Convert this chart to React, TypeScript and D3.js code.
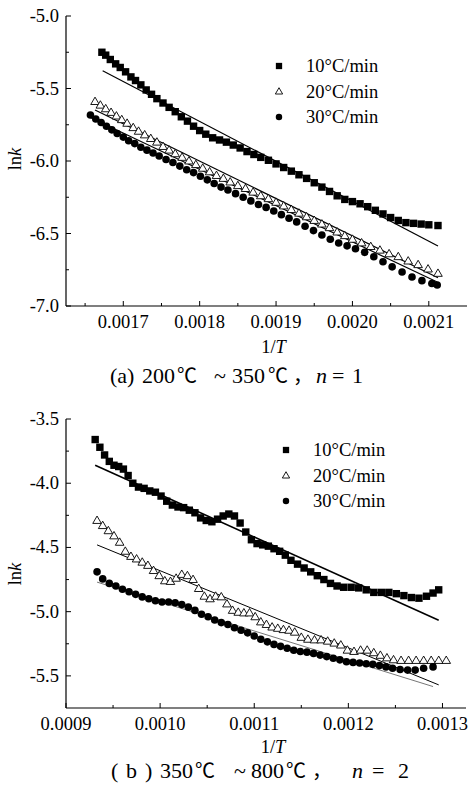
import React from 'react';
import * as d3 from 'd3';

// ---------- Panel (a): 200–350 °C, n = 1 ----------
const A_X_TICKS = [0.0017, 0.0018, 0.0019, 0.002, 0.0021];
const A_X_TICK_LABELS = ['0.0017', '0.0018', '0.0019', '0.0020', '0.0021'];
const A_X_MINOR = [0.00165, 0.00175, 0.00185, 0.00195, 0.00205];
const A_Y_TICKS = [-5.0, -5.5, -6.0, -6.5, -7.0];
const A_Y_TICK_LABELS = ['-5.0', '-5.5', '-6.0', '-6.5', '-7.0'];
const A_Y_MINOR = [-5.25, -5.75, -6.25, -6.75];

const A_S10: [number, number][] = [
  [0.001672, -5.25], [0.001677, -5.27], [0.001683, -5.3], [0.00169, -5.33], [0.001696, -5.355],
  [0.001703, -5.385], [0.00171, -5.42], [0.001716, -5.445], [0.001723, -5.475], [0.00173, -5.51],
  [0.001737, -5.54], [0.001744, -5.57], [0.001752, -5.6], [0.00176, -5.63], [0.001768, -5.66],
  [0.001776, -5.695], [0.001784, -5.725], [0.001792, -5.76], [0.0018, -5.79], [0.001808, -5.815],
  [0.001817, -5.84], [0.001826, -5.855], [0.001835, -5.87], [0.001844, -5.89], [0.001853, -5.91],
  [0.001862, -5.935], [0.001871, -5.955], [0.00188, -5.975], [0.00189, -5.995], [0.0019, -6.02],
  [0.00191, -6.045], [0.00192, -6.07], [0.00193, -6.095], [0.00194, -6.12], [0.00195, -6.15],
  [0.00196, -6.18], [0.00197, -6.21], [0.00198, -6.24], [0.00199, -6.265], [0.002, -6.28],
  [0.00201, -6.295], [0.00202, -6.315], [0.00203, -6.34], [0.00204, -6.365], [0.00205, -6.39],
  [0.00206, -6.41], [0.00207, -6.425], [0.00208, -6.43], [0.00209, -6.435], [0.0021, -6.44],
  [0.002112, -6.445],
];
const A_S20: [number, number][] = [
  [0.001663, -5.59], [0.00167, -5.615], [0.001677, -5.64], [0.001684, -5.665], [0.001691, -5.69],
  [0.001698, -5.715], [0.001705, -5.74], [0.001713, -5.77], [0.00172, -5.795], [0.001728, -5.82],
  [0.001736, -5.845], [0.001744, -5.87], [0.001752, -5.9], [0.00176, -5.925], [0.001768, -5.95],
  [0.001777, -5.975], [0.001786, -6.0], [0.001795, -6.025], [0.001804, -6.05], [0.001813, -6.075],
  [0.001822, -6.1], [0.001831, -6.12], [0.00184, -6.145], [0.00185, -6.17], [0.00186, -6.19],
  [0.00187, -6.215], [0.00188, -6.24], [0.00189, -6.26], [0.0019, -6.285], [0.00191, -6.31],
  [0.00192, -6.335], [0.00193, -6.36], [0.00194, -6.385], [0.00195, -6.41], [0.00196, -6.435],
  [0.00197, -6.46], [0.00198, -6.49], [0.00199, -6.515], [0.002, -6.54], [0.002012, -6.565],
  [0.002024, -6.59], [0.002036, -6.615], [0.002048, -6.64], [0.00206, -6.66], [0.002073, -6.69],
  [0.002086, -6.715], [0.002099, -6.745], [0.002112, -6.775],
];
const A_S30: [number, number][] = [
  [0.001657, -5.683], [0.001664, -5.71], [0.001671, -5.735], [0.001678, -5.76], [0.001685, -5.785],
  [0.001692, -5.81], [0.0017, -5.835], [0.001707, -5.86], [0.001715, -5.88], [0.001723, -5.905],
  [0.001731, -5.925], [0.001739, -5.945], [0.001747, -5.965], [0.001756, -5.99], [0.001765, -6.01],
  [0.001774, -6.035], [0.001783, -6.06], [0.001792, -6.08], [0.001801, -6.105], [0.00181, -6.13],
  [0.001819, -6.155], [0.001828, -6.18], [0.001837, -6.2], [0.001847, -6.225], [0.001857, -6.25],
  [0.001867, -6.275], [0.001877, -6.3], [0.001887, -6.32], [0.001897, -6.345], [0.001907, -6.37],
  [0.001917, -6.395], [0.001927, -6.42], [0.001938, -6.45], [0.001949, -6.48], [0.00196, -6.51],
  [0.001971, -6.54], [0.001982, -6.565], [0.001993, -6.585], [0.002004, -6.605], [0.002016, -6.63],
  [0.002028, -6.66], [0.00204, -6.695], [0.002052, -6.73], [0.002065, -6.765], [0.002078, -6.8],
  [0.002091, -6.825], [0.002104, -6.845], [0.002111, -6.855],
];
const A_FIT10: [number, number][] = [[0.001673, -5.377], [0.002112, -6.586]];
const A_FIT20: [number, number][] = [[0.001663, -5.648], [0.002112, -6.805]];
const A_FIT30: [number, number][] = [[0.001657, -5.7], [0.002111, -6.835]];

// ---------- Panel (b): 350–800 °C, n = 2 ----------
const B_X_TICKS = [0.0009, 0.001, 0.0011, 0.0012, 0.0013];
const B_X_TICK_LABELS = ['0.0009', '0.0010', '0.0011', '0.0012', '0.0013'];
const B_X_MINOR = [0.00095, 0.00105, 0.00115, 0.00125];
const B_Y_TICKS = [-3.5, -4.0, -4.5, -5.0, -5.5];
const B_Y_TICK_LABELS = ['-3.5', '-4.0', '-4.5', '-5.0', '-5.5'];
const B_Y_MINOR = [-3.75, -4.25, -4.75, -5.25];

const B_S10: [number, number][] = [
  [0.000931, -3.66], [0.000936, -3.72], [0.000941, -3.78], [0.000946, -3.83], [0.000951, -3.86],
  [0.000956, -3.87], [0.000961, -3.89], [0.000966, -3.94], [0.000971, -4.0], [0.000977, -4.03],
  [0.000983, -4.04], [0.000989, -4.06], [0.000995, -4.07], [0.001001, -4.1], [0.001007, -4.14],
  [0.001013, -4.17], [0.001019, -4.185], [0.001025, -4.19], [0.001031, -4.21], [0.001037, -4.23],
  [0.001043, -4.27], [0.001049, -4.29], [0.001055, -4.3], [0.001061, -4.28], [0.001067, -4.255],
  [0.001073, -4.24], [0.001079, -4.255], [0.001085, -4.31], [0.001091, -4.38], [0.001097, -4.44],
  [0.001103, -4.47], [0.001109, -4.48], [0.001115, -4.49], [0.001121, -4.51], [0.001127, -4.53],
  [0.001133, -4.56], [0.001139, -4.6], [0.001146, -4.63], [0.001153, -4.66], [0.00116, -4.69],
  [0.001167, -4.72], [0.001174, -4.75], [0.001181, -4.78], [0.001188, -4.8], [0.001195, -4.81],
  [0.001203, -4.81], [0.001211, -4.815], [0.001219, -4.83], [0.001227, -4.85], [0.001235, -4.85],
  [0.001243, -4.85], [0.001251, -4.86], [0.001259, -4.875], [0.001267, -4.89], [0.001275, -4.895],
  [0.001283, -4.88], [0.00129, -4.855], [0.001296, -4.83],
];
const B_S20: [number, number][] = [
  [0.000933, -4.29], [0.000939, -4.33], [0.000945, -4.37], [0.000951, -4.41], [0.000957, -4.46],
  [0.000963, -4.53], [0.000969, -4.57], [0.000975, -4.59], [0.000981, -4.615], [0.000987, -4.64],
  [0.000993, -4.68], [0.000999, -4.72], [0.001005, -4.76], [0.001011, -4.765], [0.001017, -4.74],
  [0.001023, -4.71], [0.001029, -4.72], [0.001035, -4.75], [0.001041, -4.82], [0.001047, -4.88],
  [0.001053, -4.9], [0.001059, -4.88], [0.001065, -4.885], [0.001071, -4.94], [0.001077, -4.99],
  [0.001083, -5.005], [0.001089, -5.01], [0.001095, -5.01], [0.001101, -5.04], [0.001107, -5.08],
  [0.001113, -5.1], [0.001119, -5.12], [0.001125, -5.13], [0.001131, -5.14], [0.001137, -5.145],
  [0.001143, -5.16], [0.00115, -5.2], [0.001157, -5.215], [0.001164, -5.22], [0.001171, -5.22],
  [0.001178, -5.23], [0.001185, -5.245], [0.001192, -5.26], [0.001199, -5.3], [0.001206, -5.31],
  [0.001213, -5.3], [0.00122, -5.3], [0.001227, -5.32], [0.001234, -5.34], [0.001241, -5.36],
  [0.001248, -5.375], [0.001256, -5.38], [0.001264, -5.38], [0.001272, -5.38], [0.00128, -5.38],
  [0.001288, -5.38], [0.001296, -5.38], [0.001304, -5.38],
];
const B_S30: [number, number][] = [
  [0.000933, -4.69], [0.000939, -4.745], [0.000946, -4.78], [0.000953, -4.8], [0.00096, -4.825],
  [0.000967, -4.845], [0.000974, -4.865], [0.000981, -4.885], [0.000988, -4.9], [0.000995, -4.915],
  [0.001002, -4.925], [0.001009, -4.925], [0.001016, -4.93], [0.001023, -4.945], [0.00103, -4.965],
  [0.001037, -4.99], [0.001044, -5.02], [0.001051, -5.04], [0.001058, -5.065], [0.001065, -5.085],
  [0.001072, -5.1], [0.001079, -5.125], [0.001086, -5.145], [0.001093, -5.165], [0.0011, -5.19],
  [0.001107, -5.215], [0.001114, -5.235], [0.001121, -5.255], [0.001128, -5.27], [0.001135, -5.285],
  [0.001142, -5.3], [0.001149, -5.31], [0.001156, -5.315], [0.001163, -5.325], [0.00117, -5.338],
  [0.001177, -5.35], [0.001184, -5.363], [0.001191, -5.375], [0.001198, -5.39], [0.001205, -5.395],
  [0.001212, -5.4], [0.001219, -5.405], [0.001226, -5.41], [0.001233, -5.42], [0.00124, -5.43],
  [0.001247, -5.44], [0.001255, -5.45], [0.001263, -5.455], [0.001271, -5.455], [0.00128, -5.44],
  [0.00129, -5.43],
];
const B_FIT10: [number, number][] = [[0.000931, -3.86], [0.001296, -5.067]];
const B_FIT20: [number, number][] = [[0.000933, -4.48], [0.001296, -5.57]];
const B_FIT30: [number, number][] = [[0.000933, -4.77], [0.00129, -5.583]];

const LEGEND_LABELS = ['10°C/min', '20°C/min', '30°C/min'];

// caption pieces: [text, x, kind]  kind: r = roman, i = italic, c = CJK glyph
const CAPTION_A: [string, number, string][] = [
  ['(a)', 110, 'r'], ['200', 142, 'r'], ['℃', 177, 'c'], ['~', 214, 'r'], ['350', 232, 'r'],
  ['℃', 268, 'c'], ['，', 293, 'c'], ['n', 316, 'i'], ['=', 332, 'r'], ['1', 352, 'r'],
];
const CAPTION_B: [string, number, string][] = [
  ['(', 111, 'r'], ['b', 126, 'r'], [')', 145, 'r'], ['350', 160, 'r'], ['℃', 195, 'c'],
  ['~', 234, 'r'], ['800', 251, 'r'], ['℃', 286, 'c'], ['，', 312, 'c'], ['n', 352, 'i'],
  ['=', 372, 'r'], ['2', 398, 'r'],
];

const SERIF = 'Liberation Serif, serif';
const CJK = 'Noto Sans CJK SC, sans-serif';

type Marker = 'square' | 'triangle' | 'circle';

function MarkerShape({ kind, x, y, size = 1 }: { kind: Marker; x: number; y: number; size?: number }) {
  if (kind === 'square') {
    const s = 7.4 * size;
    return <rect x={x - s / 2} y={y - s / 2} width={s} height={s} fill="#000" />;
  }
  if (kind === 'circle') {
    return <circle cx={x} cy={y} r={3.8 * size} fill="#000" />;
  }
  const h = 7.4 * size;
  const w = 8.6 * size;
  const p = `${x},${y - h * 0.6} ${x - w / 2},${y + h * 0.4} ${x + w / 2},${y + h * 0.4}`;
  return <polygon points={p} fill="#fff" stroke="#000" strokeWidth={0.9} />;
}

interface PanelProps {
  xDomain: [number, number];
  yDomain: [number, number];
  left: number;
  right: number;
  top: number;
  bottom: number;
  xTicks: number[];
  xTickLabels: string[];
  xMinor: number[];
  yTicks: number[];
  yTickLabels: string[];
  yMinor: number[];
  series: [number, number][][];
  fits: [number, number][][];
  fitStyles: { stroke: string; width: number }[];
  legendX: number;
  legendY: number;
  titleY: number;
  ylabelY: number;
  caption: [string, number, string][];
  captionY: number;
}

const MARKERS: Marker[] = ['square', 'triangle', 'circle'];

function Panel(p: PanelProps) {
  const x = d3.scaleLinear().domain(p.xDomain).range([p.left, p.right]);
  const y = d3.scaleLinear().domain(p.yDomain).range([p.bottom, p.top]);
  const line = d3
    .line<[number, number]>()
    .x((d) => x(d[0]))
    .y((d) => y(d[1]));
  return (
    <g>
      <line x1={p.left} x2={p.left} y1={p.top} y2={p.bottom} stroke="#000" strokeWidth={1.2} />
      <line x1={p.left} x2={p.right} y1={p.bottom} y2={p.bottom} stroke="#000" strokeWidth={1.2} />
      {p.xTicks.map((t, i) => (
        <g key={'xt' + i}>
          <line x1={x(t)} x2={x(t)} y1={p.bottom} y2={p.bottom - 5} stroke="#000" strokeWidth={1} />
          <text x={x(t)} y={p.bottom + 22} textAnchor="middle" fontFamily={SERIF} fontSize={18.5}>
            {p.xTickLabels[i]}
          </text>
        </g>
      ))}
      {p.xMinor.map((t, i) => (
        <line key={'xm' + i} x1={x(t)} x2={x(t)} y1={p.bottom} y2={p.bottom - 3} stroke="#000" strokeWidth={1} />
      ))}
      {p.yTicks.map((t, i) => (
        <g key={'yt' + i}>
          <line x1={p.left} x2={p.left + 5} y1={y(t)} y2={y(t)} stroke="#000" strokeWidth={1} />
          <text x={p.left - 7} y={y(t) + 6} textAnchor="end" fontFamily={SERIF} fontSize={18.5}>
            {p.yTickLabels[i]}
          </text>
        </g>
      ))}
      {p.yMinor.map((t, i) => (
        <line key={'ym' + i} x1={p.left} x2={p.left + 3} y1={y(t)} y2={y(t)} stroke="#000" strokeWidth={1} />
      ))}
      <text x={(p.left + p.right) / 2 + 7} y={p.titleY} textAnchor="middle" fontFamily={SERIF} fontSize={18.5}>
        1/<tspan fontStyle="italic">T</tspan>
      </text>
      <text
        transform={`translate(21,${p.ylabelY}) rotate(-90)`}
        textAnchor="middle"
        fontFamily={SERIF}
        fontSize={18.5}
      >
        ln<tspan fontStyle="italic">k</tspan>
      </text>
      {p.fits.map((f, i) => (
        <path key={'f' + i} d={line(f) || ''} fill="none" stroke={p.fitStyles[i].stroke} strokeWidth={p.fitStyles[i].width} />
      ))}
      {p.series.map((s, si) => (
        <g key={'s' + si}>
          {s.map((d, i) => (
            <MarkerShape key={i} kind={MARKERS[si]} x={x(d[0])} y={y(d[1])} />
          ))}
        </g>
      ))}
      {LEGEND_LABELS.map((l, i) => (
        <g key={'lg' + i}>
          <MarkerShape kind={MARKERS[i]} x={p.legendX} y={p.legendY + i * 25.5} size={0.85} />
          <text x={p.legendX + 27} y={p.legendY + i * 25.5 + 6} fontFamily={SERIF} fontSize={18.5}>
            {l}
          </text>
        </g>
      ))}
      {p.caption.map(([t, cx, k], i) => (
        <text
          key={'c' + i}
          x={cx}
          y={p.captionY}
          fontFamily={k === 'c' ? CJK : SERIF}
          fontStyle={k === 'i' ? 'italic' : 'normal'}
          fontSize={k === 'c' ? 20 : 22}
        >
          {t}
        </text>
      ))}
    </g>
  );
}

export default function App() {
  return (
    <svg width={471} height={785} style={{ position: 'absolute', left: 0, top: 0, background: '#fff' }}>
      <rect width={471} height={785} fill="#fff" />
      <Panel
        xDomain={[0.001625, 0.00215]}
        yDomain={[-7.0, -5.0]}
        left={66}
        right={467}
        top={16}
        bottom={306}
        xTicks={A_X_TICKS}
        xTickLabels={A_X_TICK_LABELS}
        xMinor={A_X_MINOR}
        yTicks={A_Y_TICKS}
        yTickLabels={A_Y_TICK_LABELS}
        yMinor={A_Y_MINOR}
        series={[A_S10, A_S20, A_S30]}
        fits={[A_FIT10, A_FIT20, A_FIT30]}
        fitStyles={[
          { stroke: '#000', width: 1.2 },
          { stroke: '#000', width: 1.2 },
          { stroke: '#000', width: 1.2 },
        ]}
        legendX={279}
        legendY={66}
        titleY={353}
        ylabelY={159}
        captionY={383}
        caption={CAPTION_A}
      />
      <Panel
        xDomain={[0.0009, 0.001325]}
        yDomain={[-5.75, -3.5]}
        left={66}
        right={466}
        top={419}
        bottom={708}
        xTicks={B_X_TICKS}
        xTickLabels={B_X_TICK_LABELS}
        xMinor={B_X_MINOR}
        yTicks={B_Y_TICKS}
        yTickLabels={B_Y_TICK_LABELS}
        yMinor={B_Y_MINOR}
        series={[B_S10, B_S20, B_S30]}
        fits={[B_FIT10, B_FIT20, B_FIT30]}
        fitStyles={[
          { stroke: '#000', width: 1.6 },
          { stroke: '#000', width: 1.0 },
          { stroke: '#666', width: 0.9 },
        ]}
        legendX={286}
        legendY={450}
        titleY={753}
        ylabelY={574}
        captionY={778}
        caption={CAPTION_B}
      />
    </svg>
  );
}
